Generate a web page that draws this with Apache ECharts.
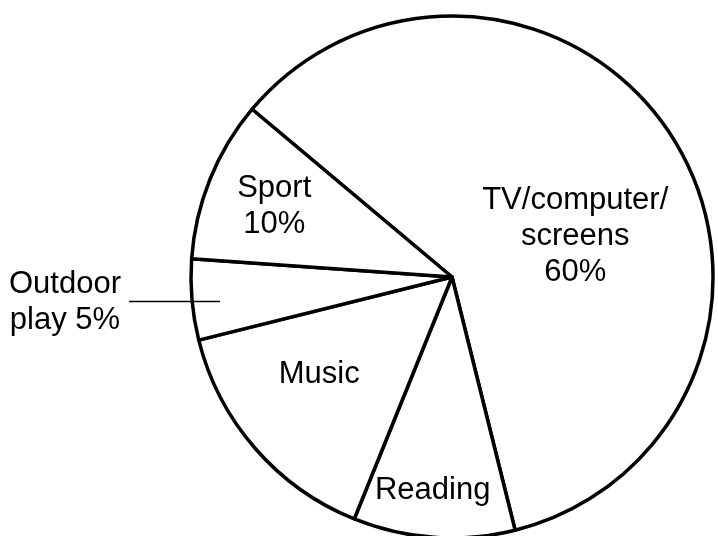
<!DOCTYPE html>
<html>
<head>
<meta charset="utf-8">
<script src="https://cdn.jsdelivr.net/npm/echarts@6/dist/echarts.min.js"></script>
<style>
  html, body { margin: 0; padding: 0; background: #fff; }
  #chart { width: 718px; height: 536px; }
</style>
</head>
<body>
<div id="chart"></div>
<script>
// Data (clockwise from the top-left boundary)
const categories = ['TV/computer/screens', 'Reading', 'Music', 'Outdoor play', 'Sport'];
const values = [60, 10, 15, 5, 10];
const labelTexts = ['TV/computer/\nscreens\n60%', 'Reading', 'Music', 'Outdoor\nplay 5%', 'Sport\n10%'];

// Label nudges (styling, kept separate from the data)
const labelNudge = [
  { dx: 10, dy: 30, lh: 36 },
  { dx: -10, dy: 80, lh: 36 },
  { dx: -32, dy: 10, lh: 36 },
  { dx: -254, dy: 14, lh: 36 },
  { dx: -54, dy: -21, lh: 36 }
];

const chart = echarts.init(document.getElementById('chart'), null, { renderer: 'canvas' });

const seriesData = categories.map((name, i) => ({
  name: name,
  value: values[i],
  label: {
    formatter: labelTexts[i],
    lineHeight: labelNudge[i].lh
  }
}));

chart.setOption({
  backgroundColor: '#ffffff',
  animation: false,
  series: [{
    type: 'pie',
    center: [452, 277],
    radius: 261,
    startAngle: 140,
    clockwise: true,
    avoidLabelOverlap: false,
    silent: true,
    itemStyle: {
      color: '#ffffff',
      borderColor: '#000000',
      borderWidth: 3.5
    },
    label: {
      show: true,
      position: 'inside',
      color: '#000000',
      fontFamily: 'Liberation Sans, Arial, Helvetica, sans-serif',
      fontSize: 31,
      align: 'center'
    },
    labelLine: { show: false },
    labelLayout: function (params) {
      const n = labelNudge[params.dataIndex];
      return { dx: n.dx, dy: n.dy };
    },
    emphasis: { disabled: true },
    data: seriesData
  }],
  graphic: [{
    type: 'line',
    shape: { x1: 129, y1: 301.5, x2: 220, y2: 301.5 },
    style: { stroke: '#000000', lineWidth: 1.6 },
    z: 100
  }]
});
</script>
</body>
</html>
